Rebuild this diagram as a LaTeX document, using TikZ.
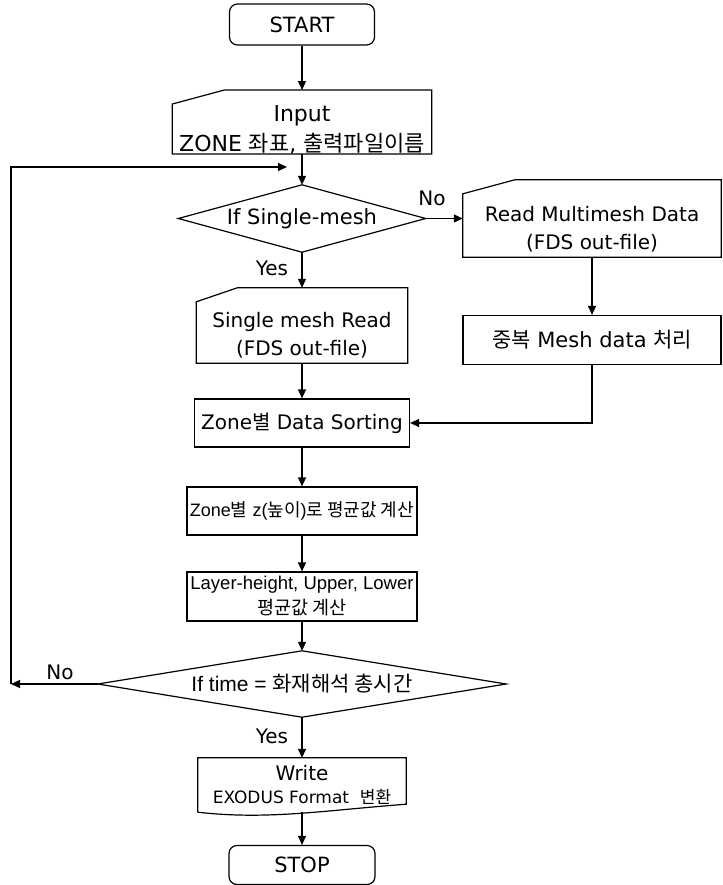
\documentclass[tikz,border=0pt]{standalone}
\usepackage{fontspec}
\setmainfont{DejaVu Sans}
\newfontfamily\kr{Noto Sans CJK KR}
\newfontfamily\ls{Liberation Sans}
\newcommand{\ko}[1]{{\kr #1}}
\newcommand{\fs}[2]{\fontsize{#1}{#2}\selectfont}
\usetikzlibrary{arrows.meta,calc}
\tikzset{
  every node/.style={font=\fs{20}{28},align=center,inner sep=0pt},
  Term/.style={draw,line width=1.2pt,rounded corners=8pt,font=\fs{21}{28}},
  Box/.style={draw,line width=1.2pt},
  Edge/.style={line width=1.2pt},
  Arr/.style={line width=1.2pt,-{Triangle[length=9pt,width=8pt]}}
}

\begin{document}
\begin{tikzpicture}[x=1pt,y=-1pt]
\useasboundingbox (0,0) rectangle (722,885);

\node[Term,minimum width=145pt,minimum height=41pt] (start) at (302,24.5) {START};
\node[minimum width=259pt,minimum height=62pt,font=\fs{22}{30}] (inp) at (302,122) {\rule{0pt}{31pt}Input\\ZONE \ko{좌표}, \ko{출력파일이름}};
\node[minimum width=247pt,minimum height=67pt,font=\fs{21}{28}] (d1) at (302,218.5) {If Single-mesh};
\node[minimum width=258pt,minimum height=77pt] (mlt) at (592,218.5) {\rule{0pt}{36pt}Read Multimesh Data\\(FDS out-file)};
\node[Box,minimum width=258pt,minimum height=49pt,font=\fs{21}{28}] (dup) at (592,340) {\ko{중복} Mesh data \ko{처리}};
\node[minimum width=211pt,minimum height=75pt] (sgl) at (302,325.5) {\rule{0pt}{35pt}Single mesh Read\\(FDS out-file)};
\node[Box,minimum width=215pt,minimum height=48pt] (sort) at (302,423) {Zone\ko{별} Data Sorting};
\node[Box,minimum width=230pt,minimum height=48pt,font=\ls\fs{18}{25}] (zavg) at (302,511) {Zone\ko{별} z(\ko{높이})\ko{로 평균값 계산}};
\node[Box,minimum width=230pt,minimum height=49pt,font=\ls\fs{18.5}{25}] (lay) at (302,596.5) {Layer-height, Upper, Lower\\\ko{평균값 계산}};
\node[minimum width=408pt,minimum height=66pt,font=\ls\fs{21}{28}] (d2) at (302,684) {If time = \ko{화재해석 총시간}};
\node[minimum width=208pt,minimum height=54pt,font=\fs{20}{23}] (wrt) at (302,785)
  {Write\\{\fs{17}{20}EXODUS Format~ \ko{변환}}};
\node[Term,minimum width=146pt,minimum height=39pt] (stop) at (302,865) {STOP};

\coordinate (lc) at (11,684);
\coordinate (le) at (287,167);

\foreach \n/\d in {inp/52,sgl/41,mlt/52}
  \draw[Edge] (\n.south west) -- ($(\n.north west)+(0,14)$) -- ($(\n.north west)+(\d,0)$)
    -- (\n.north east) -- (\n.south east) -- cycle;

\foreach \n in {d1,d2}
  \draw[Edge] (\n.west) -- (\n.north) -- (\n.east) -- (\n.south) -- cycle;

\draw[Edge] (wrt.south west) -- (wrt.north west) -- (wrt.north east) -- ($(wrt.south east)+(0,-8)$)
  .. controls ($(wrt.south east)+(-80,-2)$) and ($(wrt.south west)+(70,8)$) .. (wrt.south west);

\draw[Arr] (start) -- (inp);
\draw[Arr] (inp) -- (d1.north);
\draw[Arr] (d1.east) -- (mlt);
\draw[Arr] (d1.south) -- (sgl);
\draw[Arr] (mlt) -- (dup);
\draw[Arr] (dup.south) |- (sort.east);
\draw[Arr] (sgl) -- (sort);
\draw[Arr] (sort) -- (zavg);
\draw[Arr] (zavg) -- (lay);
\draw[Arr] (lay) -- (d2.north);
\draw[Arr] (d2.south) -- (wrt.north);
\draw[Arr] (wrt.south) -- (stop.north);
\draw[Arr] (d2.west) -- (lc);
\draw[Arr] (lc) |- (le);

\node (no1) at (432,198) {No};
\node (yes1) at (272,268) {Yes};
\node (no2) at (60,672) {No};
\node (yes2) at (272,736) {Yes};

\end{tikzpicture}
\end{document}
